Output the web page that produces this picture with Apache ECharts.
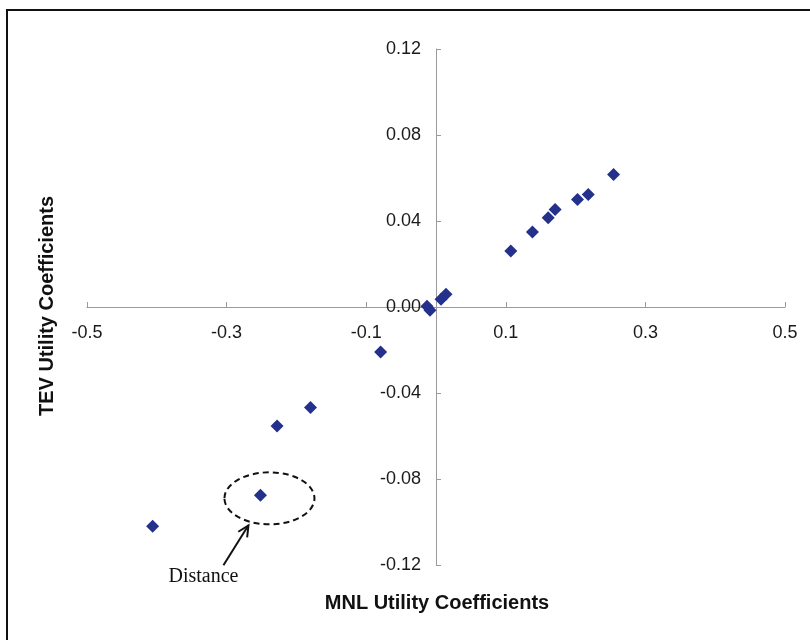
<!DOCTYPE html>
<html>
<head>
<meta charset="utf-8">
<script src="https://cdn.jsdelivr.net/npm/echarts@6/dist/echarts.min.js"></script>
<style>
  html, body { margin: 0; padding: 0; background: #ffffff; }
  #chart { width: 810px; height: 640px; }
</style>
</head>
<body>
<div id="chart"></div>
<script>
// MNL vs TEV utility coefficients, one pair per attribute level
const mnlCoef = [-0.406, -0.2515, -0.2277, -0.1798, -0.0793, -0.0129, -0.0086, 0.0072, 0.0143,
                 0.1072, 0.1382, 0.1607, 0.1707, 0.2027, 0.2181, 0.2544];
const tevCoef = [-0.1020, -0.0876, -0.0553, -0.0468, -0.0209, 0.0003, -0.0015, 0.0036, 0.0059,
                 0.0260, 0.0349, 0.0415, 0.0454, 0.0500, 0.0523, 0.0616];

const xRange = [-0.5, 0.5];
const xStep = 0.2;
const yRange = [-0.12, 0.12];
const yStep = 0.04;

const xTitle = 'MNL Utility Coefficients';
const yTitle = 'TEV Utility Coefficients';
const noteText = 'Distance';
const noteIndex = 1;   // the coefficient pair singled out by the dashed ring

const points = mnlCoef.map((x, i) => [x, tevCoef[i]]);

const gridBox = { left: 87, right: 25, top: 49, bottom: 75 };
const W = 810, H = 640;
const plotW = W - gridBox.left - gridBox.right;
const plotH = H - gridBox.top - gridBox.bottom;

// The axes cross at the origin: shift each one from its grid edge to the zero line
const xZeroFromBottom = plotH * (0 - yRange[0]) / (yRange[1] - yRange[0]);
const yZeroFromLeft = plotW * (0 - xRange[0]) / (xRange[1] - xRange[0]);

const chart = echarts.init(document.getElementById('chart'), null, { renderer: 'canvas' });

const labelStyle = {
  fontFamily: 'Liberation Sans, Arial, sans-serif',
  fontSize: 18,
  color: '#1a1a1a'
};

chart.setOption({
  animation: false,
  backgroundColor: '#ffffff',
  grid: Object.assign({ containLabel: false }, gridBox),
  xAxis: {
    type: 'value',
    position: 'bottom',
    offset: -xZeroFromBottom,
    min: xRange[0], max: xRange[1], interval: xStep,
    axisLine: { onZero: false, lineStyle: { color: '#9a9a9a', width: 1 } },
    axisTick: { show: true, inside: true, length: 5, lineStyle: { color: '#9a9a9a' } },
    axisLabel: Object.assign({ margin: 17, formatter: v => v.toFixed(1) }, labelStyle),
    splitLine: { show: false }
  },
  yAxis: {
    type: 'value',
    position: 'left',
    offset: -yZeroFromLeft,
    min: yRange[0], max: yRange[1], interval: yStep,
    axisLine: { onZero: false, lineStyle: { color: '#9a9a9a', width: 1 } },
    axisTick: { show: true, inside: true, length: 5, lineStyle: { color: '#9a9a9a' } },
    axisLabel: Object.assign({ margin: 15, formatter: v => v.toFixed(2) }, labelStyle),
    splitLine: { show: false }
  },
  series: [{
    type: 'scatter',
    symbol: 'diamond',
    symbolSize: 13,
    itemStyle: { color: '#24318c', opacity: 1 },
    data: points
  }]
});

// Frame, axis titles and the dashed "Distance" callout
function drawDecorations() {
  const p = chart.convertToPixel({ seriesIndex: 0 }, points[noteIndex]);
  const cx = p[0] + 9, cy = p[1] + 3;
  const rx = 45, ry = 26;
  const tip = [cx - 21, cy + ry + 1];
  const tail = [tip[0] - 25, tip[1] + 40];
  const ang = Math.atan2(tail[1] - tip[1], tail[0] - tip[0]);
  const headLen = 12, spread = 0.45;
  const h1 = [tip[0] + headLen * Math.cos(ang + spread), tip[1] + headLen * Math.sin(ang + spread)];
  const h2 = [tip[0] + headLen * Math.cos(ang - spread), tip[1] + headLen * Math.sin(ang - spread)];

  chart.setOption({
    graphic: [
      {
        type: 'rect', silent: true,
        shape: { x: 7, y: 10, width: 900, height: 800 },
        style: { fill: 'none', stroke: '#111111', lineWidth: 2 }
      },
      {
        type: 'text', silent: true,
        x: 437, y: 603,
        style: {
          text: xTitle, align: 'center', verticalAlign: 'middle',
          font: 'bold 20px "Liberation Sans", Arial, sans-serif', fill: '#111111'
        }
      },
      {
        type: 'text', silent: true,
        x: 47, y: 306, rotation: Math.PI / 2,
        style: {
          text: yTitle, align: 'center', verticalAlign: 'middle',
          font: 'bold 20px "Liberation Sans", Arial, sans-serif', fill: '#111111'
        }
      },
      {
        type: 'ellipse', silent: true,
        shape: { cx: cx, cy: cy, rx: rx, ry: ry },
        style: { fill: 'none', stroke: '#111111', lineWidth: 2, lineDash: [6, 4] }
      },
      {
        type: 'polyline', silent: true,
        shape: { points: [tail, tip] },
        style: { stroke: '#111111', lineWidth: 2, fill: 'none' }
      },
      {
        type: 'polyline', silent: true,
        shape: { points: [h1, tip, h2] },
        style: { stroke: '#111111', lineWidth: 2, fill: 'none' }
      },
      {
        type: 'text', silent: true,
        x: tail[0] - 20, y: tail[1] + 11,
        style: {
          text: noteText, align: 'center', verticalAlign: 'middle',
          font: '20px "Liberation Serif", "Times New Roman", serif', fill: '#111111'
        }
      }
    ]
  });
}

drawDecorations();
</script>
</body>
</html>
